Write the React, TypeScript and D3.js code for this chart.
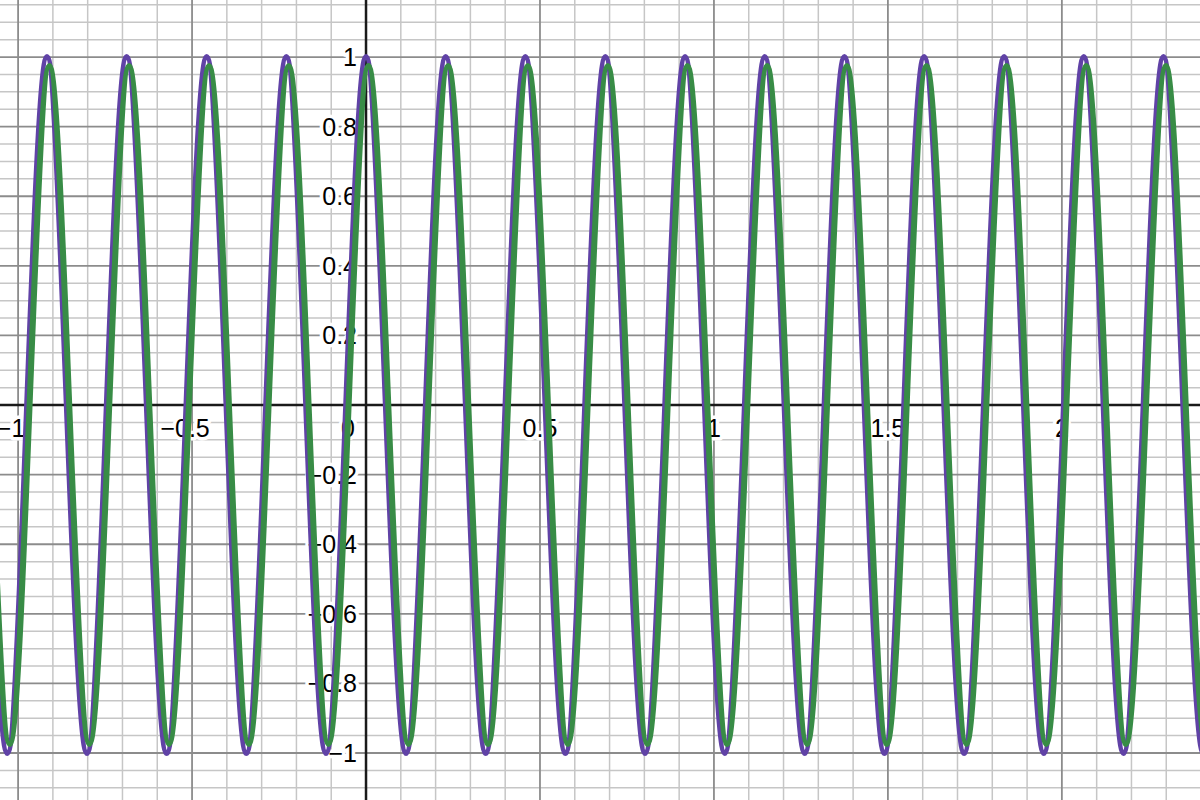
import React from 'react';
import * as d3 from 'd3';

// view window (graph units)
const xDomain = [-1.052, 2.397];
const yDomain = [-1.135, 1.164];

// labelled ticks
const xTickLabels = [-1, -0.5, 0.5, 1, 1.5, 2];
const yTickLabels = [-1, -0.8, -0.6, -0.4, -0.2, 0.2, 0.4, 0.6, 0.8, 1];

// purple curve: extrema and zero crossings
const purpleX = [
  -1.089, -1.031, -0.974, -0.917, -0.86, -0.802, -0.745, -0.688, -0.63, -0.573, -0.516, -0.458, -0.401,
  -0.344, -0.287, -0.229, -0.172, -0.115, -0.057, 0, 0.057, 0.115, 0.172, 0.229, 0.287, 0.344, 0.401,
  0.458, 0.516, 0.573, 0.63, 0.688, 0.745, 0.802, 0.86, 0.917, 0.974, 1.031, 1.089, 1.146, 1.203, 1.261,
  1.318, 1.375, 1.433, 1.49, 1.547, 1.604, 1.662, 1.719, 1.776, 1.834, 1.891, 1.948, 2.006, 2.063, 2.12,
  2.177, 2.235, 2.292, 2.349, 2.407, 2.464,
];
const purpleY = [
  0, -1, 0, 1, 0, -1, 0, 1, 0, -1, 0, 1, 0, -1, 0, 1, 0, -1, 0, 1, 0, -1, 0, 1, 0, -1, 0, 1, 0, -1, 0, 1,
  0, -1, 0, 1, 0, -1, 0, 1, 0, -1, 0, 1, 0, -1, 0, 1, 0, -1, 0, 1, 0, -1, 0, 1, 0, -1, 0, 1, 0, -1, 0,
];

// green curve: slightly lower and a touch to the right
const greenX = [
  -1.082, -1.024, -0.967, -0.91, -0.853, -0.795, -0.738, -0.681, -0.623, -0.566, -0.509, -0.451, -0.394,
  -0.337, -0.28, -0.222, -0.165, -0.108, -0.05, 0.007, 0.064, 0.122, 0.179, 0.236, 0.294, 0.351, 0.408,
  0.465, 0.523, 0.58, 0.637, 0.695, 0.752, 0.809, 0.867, 0.924, 0.981, 1.038, 1.096, 1.153, 1.21, 1.268,
  1.325, 1.382, 1.44, 1.497, 1.554, 1.611, 1.669, 1.726, 1.783, 1.841, 1.898, 1.955, 2.013, 2.07, 2.127,
  2.184, 2.242, 2.299, 2.356, 2.414, 2.471,
];
const greenY = [
  0, -0.974, 0, 0.974, 0, -0.974, 0, 0.974, 0, -0.974, 0, 0.974, 0, -0.974, 0, 0.974, 0, -0.974, 0, 0.974,
  0, -0.974, 0, 0.974, 0, -0.974, 0, 0.974, 0, -0.974, 0, 0.974, 0, -0.974, 0, 0.974, 0, -0.974, 0, 0.974,
  0, -0.974, 0, 0.974, 0, -0.974, 0, 0.974, 0, -0.974, 0, 0.974, 0, -0.974, 0, 0.974, 0, -0.974, 0, 0.974,
  0, -0.974, 0,
];

const W = 1200;
const H = 800;
const FONT = "Arial, 'Liberation Sans', sans-serif";

const fmt = (v: number) => (v < 0 ? '\u2212' + Math.abs(v) : String(v));

const App: React.FC = () => {
  const x = d3.scaleLinear().domain(xDomain).range([0, W]);
  const y = d3.scaleLinear().domain(yDomain).range([H, 0]);

  // grid: x minor 0.1 / major 0.5, y minor 0.05 / major 0.2
  const vLines = d3.range(-11, 25).map((k) => ({ v: k / 10, major: k % 5 === 0 }));
  const hLines = d3.range(-23, 24).map((k) => ({ v: k / 20, major: k % 4 === 0 }));

  const line = d3
    .line<number>()
    .x((d) => x(d))
    .curve(d3.curveNatural);

  const purplePath = line.y((_, i) => y(purpleY[i]))(purpleX) || '';
  const greenPath = line.y((_, i) => y(greenY[i]))(greenX) || '';

  const x0 = x(0);
  const y0 = y(0);
  const halo = { stroke: '#fff', strokeWidth: 7, paintOrder: 'stroke' as const, strokeLinejoin: 'round' as const };

  return (
    <svg width={W} height={H} style={{ position: 'absolute', left: 0, top: 0, background: '#fff' }}>
      <rect width={W} height={H} fill="#fff" />
      <g>
        {vLines.filter((d) => !d.major).map((d) => (
          <line key={'vm' + d.v} x1={x(d.v)} x2={x(d.v)} y1={0} y2={H} stroke="#c6c6c6" strokeWidth={1.5} />
        ))}
        {hLines.filter((d) => !d.major).map((d) => (
          <line key={'hm' + d.v} x1={0} x2={W} y1={y(d.v)} y2={y(d.v)} stroke="#c6c6c6" strokeWidth={1.5} />
        ))}
        {vLines.filter((d) => d.major && d.v !== 0).map((d) => (
          <line key={'vM' + d.v} x1={x(d.v)} x2={x(d.v)} y1={0} y2={H} stroke="#8c8c8c" strokeWidth={1.8} />
        ))}
        {hLines.filter((d) => d.major && d.v !== 0).map((d) => (
          <line key={'hM' + d.v} x1={0} x2={W} y1={y(d.v)} y2={y(d.v)} stroke="#8c8c8c" strokeWidth={1.8} />
        ))}
      </g>
      <line x1={0} x2={W} y1={y0} y2={y0} stroke="#1a1a1a" strokeWidth={2.5} />
      <line x1={x0} x2={x0} y1={0} y2={H} stroke="#1a1a1a" strokeWidth={2.5} />

      <g fontFamily={FONT} fontSize={25} fill="#000">
        {xTickLabels.map((v) => (
          <text key={'xl' + v} x={x(v) - (v < 0 ? 7 : 0)} y={y0 + 32} textAnchor="middle" {...halo}>
            {fmt(v)}
          </text>
        ))}
        <text x={x0 - 18} y={y0 + 32} textAnchor="middle" {...halo}>0</text>
        {yTickLabels.map((v) => (
          <text key={'yl' + v} x={x0 - 9} y={y(v) + 9} textAnchor="end" {...halo}>
            {fmt(v)}
          </text>
        ))}
      </g>

      <path d={purplePath} fill="none" stroke="#6042a6" strokeWidth={6} strokeLinejoin="round" />
      <path d={greenPath} fill="none" stroke="#388c46" strokeWidth={6} strokeLinejoin="round" />
    </svg>
  );
};

export default App;
